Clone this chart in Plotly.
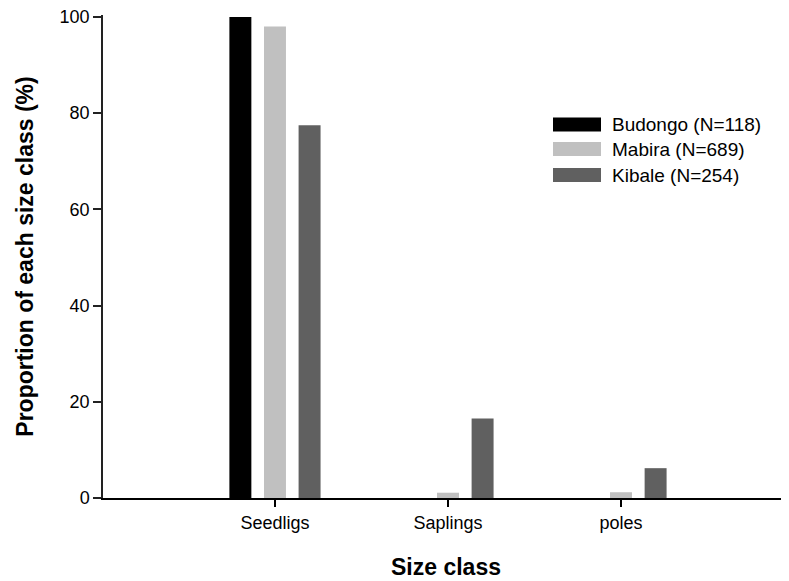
import plotly.graph_objects as go

categories = ["Seedligs", "Saplings", "poles"]
series_names = ["Budongo (N=118)", "Mabira (N=689)", "Kibale (N=254)"]
budongo = [100, 0, 0]
mabira = [98, 1.1, 1.2]
kibale = [77.5, 16.5, 6.2]
y_ticks = [0, 20, 40, 60, 80, 100]

colors = ["#000000", "#c0c0c0", "#606060"]
values = [budongo, mabira, kibale]

W, H = 789, 581
L, R, T, B = 95, 8, 7, 91
OFF = 8  # page body margin offset
FONT = "Liberation Sans, Arial, Helvetica, sans-serif"

bar_w = 0.127
offsets = [-0.2 - bar_w / 2, -bar_w / 2, 0.2 - bar_w / 2]

fig = go.Figure()
for name, vals, col, off in zip(series_names, values, colors, offsets):
    fig.add_trace(go.Bar(
        x=categories, y=vals, name=name,
        marker=dict(color=col, line=dict(width=0)),
        width=bar_w, offset=off, showlegend=False,
    ))

# custom legend with wide swatches (paper coordinates)
pw, ph = W - L - R, H - T - B
def px_x(px):
    return (px - OFF - L) / pw
def px_y(py):
    return (H - B - (py - OFF)) / ph

legend_rows = [124.5, 149, 175]
shapes = []
annotations = []
for name, col, cy in zip(series_names, colors, legend_rows):
    shapes.append(dict(type="rect", xref="paper", yref="paper",
                       x0=px_x(553), x1=px_x(601), y0=px_y(cy + 7), y1=px_y(cy - 7),
                       fillcolor=col, line=dict(width=0)))
    annotations.append(dict(xref="paper", yref="paper", x=px_x(610), y=px_y(cy),
                            text=name, showarrow=False, xanchor="left", yanchor="middle",
                            font=dict(family=FONT, size=19, color="#000")))

fig.update_layout(
    width=W, height=H,
    margin=dict(l=L, r=R, t=T, b=B),
    plot_bgcolor="white", paper_bgcolor="white",
    barmode="overlay",
    shapes=shapes, annotations=annotations,
    font=dict(family=FONT, color="#000"),
    xaxis=dict(
        type="category", range=[-0.994, 2.971],
        showline=True, linecolor="#000", linewidth=2,
        ticks="outside", ticklen=7, tickcolor="#000", tickwidth=1.5,
        tickfont=dict(family=FONT, size=18, color="#000"),
        showgrid=False, zeroline=False, automargin=False,
        title=dict(text="<b>Size class</b>", font=dict(family=FONT, size=23, color="#000"), standoff=27),
    ),
    yaxis=dict(
        range=[0, 100.4], tickvals=y_ticks,
        showline=True, linecolor="#222", linewidth=1.5,
        ticks="outside", ticklen=8, tickcolor="#222", tickwidth=1.5,
        tickfont=dict(family=FONT, size=18, color="#000"),
        ticklabeloverflow="allow", automargin=False,
        showgrid=False, zeroline=False,
        title=dict(text="<b>Proportion of each size class (%)</b>", font=dict(family=FONT, size=23, color="#000"), standoff=20),
    ),
)

fig.write_html("out.html")
